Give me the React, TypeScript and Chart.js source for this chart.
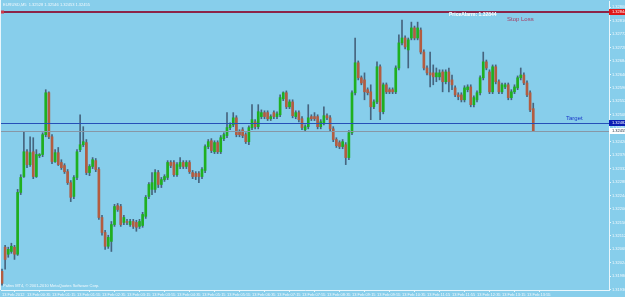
import React, { useEffect, useRef } from "react";
import { Chart, registerables } from "chart.js";

Chart.register(...registerables);

const FONT = '"Liberation Sans", Arial, sans-serif';
const BG = "#87CEEB";
const GREEN = "#1fb01f";
const RED = "#b35c40";
const WICK = "#46647e";
const AXIS = "#e8f6fc";
const TICK = "#f2f9fd";

const symbolTitle = "EURUSD,M5  1.32528 1.32546 1.32453 1.32455";
const copyright = "Pafins MT4, \u00A9 2001-2010 MetaQuotes Software Corp.";
const alarmText = "PriceAlarm: 1.32844";
const stopLossText = "Stop Loss";
const targetText = "Target";

const stopLoss = 1.32844;
const target = 1.32482;
const bid = 1.32455;

const timeLabels = [
  "13 Feb 2012", "13 Feb 00:35", "13 Feb 01:15", "13 Feb 01:55", "13 Feb 02:35", "13 Feb 03:15",
  "13 Feb 03:55", "13 Feb 04:35", "13 Feb 05:15", "13 Feb 05:55", "13 Feb 06:35", "13 Feb 07:15",
  "13 Feb 07:55", "13 Feb 08:35", "13 Feb 09:15", "13 Feb 09:55", "13 Feb 10:35", "13 Feb 11:15",
  "13 Feb 11:55", "13 Feb 12:35", "13 Feb 13:15", "13 Feb 13:55",
];
const timeLabelBars = [0, 8, 16, 24, 32, 40, 48, 56, 64, 72, 80, 88, 96, 104, 112, 120, 128, 136, 144, 152, 160, 168];

const priceTicks = [
  1.3286, 1.32816, 1.32772, 1.32728, 1.32684, 1.3264, 1.32596, 1.32552, 1.32508, 1.32464, 1.3242,
  1.32376, 1.32332, 1.32288, 1.32244, 1.322, 1.32156, 1.32112, 1.32068, 1.32024, 1.3198, 1.31936,
];

const opens = [
  1.31996, 1.32075, 1.32052, 1.32061, 1.32075, 1.32052, 1.32254, 1.32306, 1.32387, 1.32345,
  1.32387, 1.32306, 1.32374, 1.32378, 1.32443, 1.3258, 1.32436, 1.32355, 1.32384, 1.32352,
  1.32342, 1.32322, 1.32286, 1.32241, 1.32303, 1.32394, 1.3241, 1.32417, 1.32319, 1.32339,
  1.32358, 1.32329, 1.32172, 1.32123, 1.32078, 1.32094, 1.32149, 1.32211, 1.32208, 1.32156,
  1.32159, 1.32149, 1.32159, 1.32156, 1.32143, 1.32146, 1.32176, 1.32241, 1.32264, 1.32264,
  1.32319, 1.3228, 1.32296, 1.32303, 1.32352, 1.32352, 1.32312, 1.32339, 1.32352, 1.32339,
  1.32352, 1.32319, 1.32316, 1.32316, 1.32306, 1.32326, 1.32404, 1.32423, 1.32387, 1.32417,
  1.32387, 1.3243, 1.3244, 1.32466, 1.32475, 1.32498, 1.32453, 1.32459, 1.32443, 1.3242,
  1.32466, 1.32485, 1.32469, 1.32502, 1.32515, 1.32515, 1.32495, 1.32515, 1.32502, 1.32508,
  1.3256, 1.3258, 1.32534, 1.3255, 1.32502, 1.32515, 1.32495, 1.32459, 1.32469, 1.32502,
  1.32502, 1.32502, 1.32469, 1.32482, 1.32505, 1.32498, 1.32462, 1.32427, 1.32417, 1.32404,
  1.3241, 1.32368, 1.32449, 1.3258, 1.32678, 1.32629, 1.32622, 1.3259, 1.32583, 1.32534,
  1.3255, 1.32665, 1.32518, 1.32606, 1.3259, 1.3259, 1.32583, 1.32661, 1.32743, 1.32759,
  1.3272, 1.32759, 1.32792, 1.32759, 1.32785, 1.32713, 1.32661, 1.32645, 1.32645, 1.32632,
  1.32632, 1.32648, 1.32616, 1.32648, 1.32622, 1.32596, 1.32573, 1.32573, 1.32557, 1.3259,
  1.32599, 1.32541, 1.32557, 1.3258, 1.32629, 1.32681, 1.32648, 1.32583, 1.32665, 1.32616,
  1.32583, 1.32599, 1.32606, 1.32564, 1.32583, 1.32596, 1.32629, 1.32638, 1.32612, 1.3258,
  1.32528,
];

const closes = [
  1.31957, 1.32035, 1.32068, 1.32078, 1.32052, 1.32254, 1.32303, 1.32387, 1.32345, 1.32384,
  1.32306, 1.32378, 1.32378, 1.32443, 1.3258, 1.32436, 1.32355, 1.32384, 1.32345, 1.32335,
  1.32322, 1.32286, 1.32238, 1.32303, 1.32387, 1.3241, 1.3242, 1.32319, 1.32339, 1.32361,
  1.32329, 1.32172, 1.32123, 1.32078, 1.32107, 1.32149, 1.32208, 1.32198, 1.32149, 1.32172,
  1.32156, 1.32159, 1.32143, 1.3214, 1.32159, 1.32182, 1.32238, 1.3228, 1.32286, 1.32319,
  1.3228, 1.32296, 1.32306, 1.32352, 1.32342, 1.32312, 1.32345, 1.32352, 1.32339, 1.32352,
  1.32322, 1.32306, 1.32306, 1.32306, 1.32329, 1.32404, 1.3242, 1.32391, 1.32417, 1.32387,
  1.32433, 1.32443, 1.32466, 1.32475, 1.32498, 1.32443, 1.32443, 1.3244, 1.3242, 1.32466,
  1.32492, 1.32469, 1.32518, 1.32515, 1.32502, 1.32495, 1.32502, 1.32502, 1.32511, 1.32564,
  1.3258, 1.32534, 1.3255, 1.32505, 1.32515, 1.32492, 1.32466, 1.32469, 1.32498, 1.32495,
  1.32495, 1.32469, 1.32485, 1.32505, 1.32498, 1.32462, 1.32427, 1.32407, 1.32404, 1.3242,
  1.32368, 1.32449, 1.3258, 1.32678, 1.32629, 1.32612, 1.32583, 1.3258, 1.32534, 1.3255,
  1.32665, 1.32518, 1.32606, 1.32583, 1.32583, 1.32583, 1.32661, 1.32743, 1.32759, 1.3273,
  1.32753, 1.32792, 1.32759, 1.32792, 1.32713, 1.32661, 1.32645, 1.32638, 1.32632, 1.32645,
  1.32645, 1.32616, 1.32648, 1.32616, 1.32606, 1.32573, 1.32567, 1.32557, 1.32596, 1.32599,
  1.32541, 1.32564, 1.3258, 1.32629, 1.32681, 1.32661, 1.32583, 1.32665, 1.32616, 1.32583,
  1.32606, 1.32606, 1.32564, 1.32583, 1.32599, 1.32629, 1.32638, 1.32612, 1.32573, 1.32524,
  1.32455,
];

const highs = [
  1.32003, 1.32081, 1.32075, 1.32088, 1.32081, 1.32264, 1.32312, 1.32453, 1.32394, 1.32436,
  1.32433, 1.32394, 1.32381, 1.32449, 1.3259, 1.32583, 1.32443, 1.32394, 1.32401, 1.32361,
  1.32348, 1.32329, 1.32293, 1.32309, 1.32394, 1.32508, 1.32469, 1.32427, 1.32345, 1.32368,
  1.32365, 1.32335, 1.32179, 1.3213, 1.32114, 1.32159, 1.32215, 1.32218, 1.32215, 1.32179,
  1.32166, 1.32166, 1.32166, 1.32163, 1.32166, 1.32189, 1.32244, 1.32286, 1.32319, 1.32329,
  1.32326, 1.32303, 1.32312, 1.32358, 1.32358, 1.32358, 1.32352, 1.32368, 1.32358, 1.32358,
  1.32358, 1.32326, 1.32322, 1.32322, 1.32335, 1.3241, 1.32427, 1.3243, 1.32423, 1.32423,
  1.3244, 1.32449, 1.32515, 1.32482, 1.32515, 1.32505, 1.32459, 1.32466, 1.32449, 1.32472,
  1.32541, 1.32492, 1.32541, 1.32524, 1.32521, 1.32521, 1.32508, 1.32521, 1.32518, 1.32573,
  1.32583, 1.32586, 1.32557, 1.32557, 1.32521, 1.32521, 1.32502, 1.32475, 1.32541, 1.32508,
  1.32515, 1.32508, 1.32492, 1.32534, 1.32511, 1.32505, 1.32469, 1.32433, 1.32423, 1.32427,
  1.32417, 1.32456, 1.32586, 1.32759, 1.32684, 1.32635, 1.32645, 1.32596, 1.32606, 1.32557,
  1.32681, 1.32671, 1.32612, 1.32612, 1.32596, 1.32596, 1.32668, 1.32769, 1.32818, 1.32766,
  1.32759, 1.32811, 1.32798, 1.32811, 1.32792, 1.3272, 1.32668, 1.32713, 1.32671, 1.32661,
  1.32655, 1.32655, 1.32655, 1.32661, 1.32638, 1.32603, 1.3258, 1.3258, 1.32603, 1.32606,
  1.32606, 1.3257, 1.32586, 1.32635, 1.32713, 1.32687, 1.32655, 1.32671, 1.32671, 1.32622,
  1.32612, 1.32612, 1.32612, 1.3259, 1.32606, 1.32635, 1.32661, 1.32645, 1.32619, 1.32586,
  1.32546,
];

const lows = [
  1.31951, 1.32003, 1.32042, 1.32055, 1.32035, 1.32048, 1.32247, 1.32303, 1.32335, 1.32339,
  1.32299, 1.32303, 1.32368, 1.32371, 1.32436, 1.3243, 1.32348, 1.32352, 1.32342, 1.32329,
  1.32316, 1.3228, 1.32224, 1.32234, 1.32296, 1.32387, 1.32404, 1.32312, 1.32309, 1.32332,
  1.32322, 1.32166, 1.32114, 1.32068, 1.32071, 1.32061, 1.32143, 1.32192, 1.32143, 1.32149,
  1.32149, 1.32143, 1.32136, 1.32127, 1.32136, 1.3214, 1.32169, 1.32234, 1.32247, 1.32254,
  1.3227, 1.3227, 1.3229, 1.32296, 1.32335, 1.32306, 1.32306, 1.32332, 1.32332, 1.32332,
  1.32316, 1.32299, 1.32296, 1.32286, 1.32299, 1.32319, 1.32397, 1.32384, 1.32381, 1.32381,
  1.32381, 1.32423, 1.32433, 1.32459, 1.32469, 1.32436, 1.32436, 1.32433, 1.32414, 1.3241,
  1.32459, 1.32462, 1.32462, 1.32495, 1.32495, 1.32489, 1.32489, 1.32495, 1.32495, 1.32502,
  1.32554, 1.32528, 1.32528, 1.32498, 1.32495, 1.32485, 1.32459, 1.32453, 1.32462, 1.32489,
  1.32489, 1.32462, 1.32462, 1.32475, 1.32492, 1.32456, 1.3242, 1.32401, 1.32397, 1.32397,
  1.32345, 1.32361, 1.32443, 1.32573, 1.32622, 1.32606, 1.32557, 1.32573, 1.32492, 1.32528,
  1.32544, 1.32492, 1.32511, 1.32577, 1.32577, 1.32577, 1.32577, 1.32655, 1.32736, 1.32723,
  1.32661, 1.32753, 1.32753, 1.32753, 1.32707, 1.32655, 1.32638, 1.32599, 1.32606, 1.32616,
  1.32622, 1.32583, 1.32609, 1.32583, 1.3259, 1.32567, 1.32557, 1.3255, 1.3255, 1.32583,
  1.32534, 1.32534, 1.3255, 1.32573, 1.32622, 1.32655, 1.32577, 1.32577, 1.32609, 1.32577,
  1.32577, 1.32593, 1.32557, 1.32557, 1.32577, 1.3259, 1.32622, 1.32606, 1.32567, 1.32518,
  1.32453,
];

const X_MIN = -0.32;
const X_MAX = 194.24;
const Y_MIN = 1.31935;
const Y_MAX = 1.3288;

function font(size: number, bold = false) {
  return `${bold ? "bold " : ""}${size}px ${FONT}`;
}

const overlay = {
  id: "mt4overlay",
  beforeDraw(chart: any) {
    const { ctx, width, height } = chart;
    ctx.save();
    ctx.fillStyle = BG;
    ctx.fillRect(0, 0, width, height);
    ctx.restore();
  },
  afterDatasetsDraw(chart: any) {
    const { ctx, chartArea: a, scales } = chart;
    const y = scales.y;
    const hline = (v: number, color: string, w: number) => {
      const py = Math.round(y.getPixelForValue(v)) + (w % 2 ? 0.5 : 0);
      ctx.save();
      ctx.strokeStyle = color;
      ctx.lineWidth = w;
      ctx.beginPath();
      ctx.moveTo(a.left, py);
      ctx.lineTo(a.right, py);
      ctx.stroke();
      ctx.restore();
    };
    hline(bid, "#8797a6", 1);
    hline(target, "#2650b8", 1);
    hline(stopLoss, "#8c2548", 2);
    // small anchor square of the stop-loss object
    const sy = y.getPixelForValue(stopLoss);
    ctx.save();
    ctx.fillStyle = "#d03a4a";
    ctx.fillRect(a.left, sy - 1.5, 3, 3);
    ctx.restore();
  },
  afterDraw(chart: any) {
    const { ctx, chartArea: a, scales, width } = chart;
    const y = scales.y;
    ctx.save();
    // left border
    ctx.strokeStyle = AXIS;
    ctx.lineWidth = 1;
    ctx.beginPath();
    ctx.moveTo(0.5, 0);
    ctx.lineTo(0.5, a.bottom);
    ctx.stroke();

    ctx.textBaseline = "middle";
    ctx.textAlign = "left";
    ctx.fillStyle = TICK;
    ctx.font = font(4);
    ctx.fillText(symbolTitle, 3, 5);
    ctx.fillText(copyright, 3, 286);

    ctx.fillStyle = "#ffffff";
    ctx.font = font(5, true);
    ctx.fillText(alarmText, 449, y.getPixelForValue(stopLoss) + 3);

    ctx.fillStyle = "#a83a62";
    ctx.font = font(6);
    ctx.fillText(stopLossText, 507, y.getPixelForValue(stopLoss) + 7);

    ctx.fillStyle = "#1a38c8";
    ctx.font = font(6);
    ctx.fillText(targetText, 566, y.getPixelForValue(target) - 4);

    const box = (v: number, bg: string, fg: string) => {
      const py = Math.round(y.getPixelForValue(v));
      ctx.fillStyle = bg;
      ctx.fillRect(a.right, py - 3, width - a.right, 6);
      ctx.fillStyle = fg;
      ctx.font = font(4);
      ctx.fillText(v.toFixed(5), a.right + 3, py);
    };
    box(stopLoss, "#e01818", "#ffffff");
    box(target, "#0a1eb4", "#ffffff");
    box(bid, "#ffffff", "#203040");
    ctx.restore();
  },
};

export default function App() {
  const ref = useRef<HTMLCanvasElement>(null);
  useEffect(() => {
    document.body.style.margin = "0";
    const canvas = ref.current;
    if (!canvas) return;
    const bodies = opens.map((o, i) => ({ x: i, y: [o, closes[i]] }));
    const wicks = highs.map((h, i) => ({ x: i, y: [lows[i], h] }));
    const bodyColors = opens.map((o, i) => (closes[i] >= o ? GREEN : RED));

    const chart = new Chart(canvas, {
      type: "bar",
      data: {
        datasets: [
          {
            label: "body",
            data: bodies as any,
            backgroundColor: bodyColors,
            barThickness: 2,
            borderWidth: 0,
            grouped: false,
            order: 0,
          } as any,
          {
            label: "wick",
            data: wicks as any,
            backgroundColor: WICK,
            barThickness: 1,
            borderWidth: 0,
            grouped: false,
            order: 1,
          } as any,
        ],
      },
      options: {
        responsive: false,
        animation: false,
        events: [],
        layout: { padding: { left: 1, top: 1, right: 0, bottom: 0 } },
        plugins: { legend: { display: false }, tooltip: { enabled: false } },
        scales: {
          x: {
            type: "linear",
            position: "bottom",
            min: X_MIN,
            max: X_MAX,
            offset: false,
            afterBuildTicks: (s: any) => {
              s.ticks = timeLabelBars.map((v) => ({ value: v }));
            },
            afterFit: (s: any) => {
              s.height = 7;
              s.paddingLeft = 0;
              s.paddingRight = 0;
            },
            ticks: {
              autoSkip: false,
              maxRotation: 0,
              minRotation: 0,
              align: "start",
              padding: 0,
              color: TICK,
              font: { size: 4, family: FONT },
              callback: (v: any) => {
                const k = timeLabelBars.indexOf(Number(v));
                return k >= 0 ? timeLabels[k] : "";
              },
            },
            grid: { drawOnChartArea: false, drawTicks: true, tickLength: 2, color: AXIS },
            border: { display: true, color: AXIS },
          } as any,
          y: {
            type: "linear",
            position: "right",
            min: Y_MIN,
            max: Y_MAX,
            afterBuildTicks: (s: any) => {
              s.ticks = priceTicks.map((v) => ({ value: v }));
            },
            afterFit: (s: any) => {
              s.width = 16;
              s.paddingTop = 0;
              s.paddingBottom = 0;
            },
            ticks: {
              autoSkip: false,
              padding: 1,
              color: TICK,
              font: { size: 4, family: FONT },
              callback: (v: any) => Number(v).toFixed(5),
            },
            grid: { drawOnChartArea: false, drawTicks: true, tickLength: 2, color: AXIS },
            border: { display: true, color: AXIS },
          } as any,
        },
      },
      plugins: [overlay as any],
    });
    return () => chart.destroy();
  }, []);
  return <canvas ref={ref} width={625} height={297} style={{ display: "block" }} />;
}
